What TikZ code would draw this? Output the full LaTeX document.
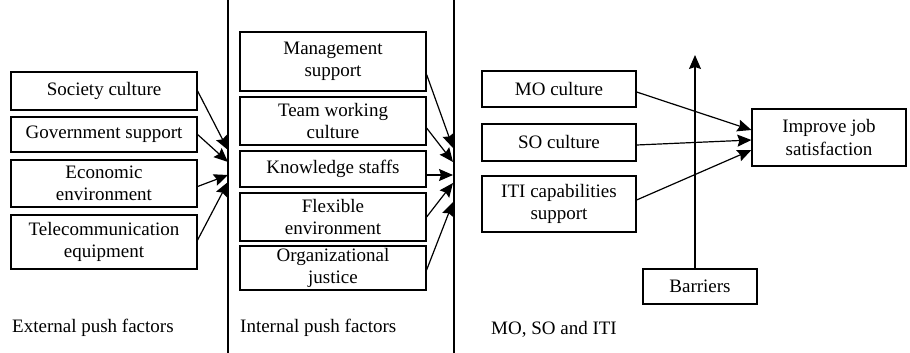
\documentclass[tikz,border=0pt]{standalone}
\usepackage{fontspec}
\setmainfont{Liberation Serif}
\newfontfamily\timesfont{Liberation Serif}
\usepackage{tikz}
\usetikzlibrary{arrows.meta, positioning, calc}

\begin{document}
\begin{tikzpicture}[
    x=1pt, y=-1pt,
    box/.style={rectangle, draw, line width=1.2pt, align=center, inner sep=0pt, font=\timesfont\fontsize{19}{22}\selectfont},
    leftbox/.style={box, minimum width=186pt},
    rightbox/.style={box, minimum width=154pt},
    arrow/.style={-{Stealth[length=14pt, width=12pt, inset=2pt]}, line width=1.2pt},
    divider/.style={line width=1.3pt},
    caption/.style={anchor=west, inner sep=0pt, font=\timesfont\fontsize{19}{22}\selectfont}
]
\useasboundingbox (0,0) rectangle (910,353);

% Dividers
\draw[divider] (228,0) -- (228,353);
\draw[divider] (454,0) -- (454,353);

% External push factors
\node[leftbox, minimum height=38pt] (soc) at (104,91) {Society culture};
\node[leftbox, minimum height=35pt] (gov) at (104,134.5) {Government support};
\node[leftbox, minimum height=47pt] (eco) at (104,183.5) {Economic\\environment};
\node[leftbox, minimum height=54pt] (tel) at (104,242) {Telecommunication\\equipment};

% Internal push factors
\node[leftbox, minimum height=59pt] (mgmt) at (333,61.5) {Management\\support};
\node[leftbox, minimum height=48pt] (team) at (333,121) {Team working\\culture};
\node[leftbox, minimum height=36pt] (know) at (333,169) {Knowledge staffs};
\node[leftbox, minimum height=48pt] (flex) at (333,217) {Flexible\\environment};
\node[leftbox, minimum height=44pt] (just) at (333,268) {Organizational\\justice};

% MO, SO and ITI
\node[rightbox, minimum height=36pt] (mo) at (559,89) {MO culture};
\node[rightbox, minimum height=37pt] (so) at (559,142.5) {SO culture};
\node[rightbox, minimum height=56pt] (iti) at (559,204) {ITI capabilities\\support};
\node[rightbox, minimum height=57pt] (job) at (829,137.5) {Improve job\\satisfaction};
\node[box, minimum width=114pt, minimum height=35pt] (barr) at (700,286.5) {Barriers};

% Arrow ends on the dividers
\coordinate (e1) at (228,150);
\coordinate (e2) at (228,162);
\coordinate (e3) at (228,175);
\coordinate (e4) at (228,182);
\coordinate (i1) at (453,148);
\coordinate (i2) at (453,162);
\coordinate (i3) at (453,175);
\coordinate (i4) at (453,183);
\coordinate (i5) at (453,202);
\coordinate (up) at (695,55);

% External arrows
\draw[arrow] (soc.east) -- (e1);
\draw[arrow] (gov.east) -- (e2);
\draw[arrow] ([yshift=-3pt]eco.east) -- (e3);
\draw[arrow] ([yshift=2pt]tel.east) -- (e4);

% Internal arrows
\draw[arrow] ([yshift=-13pt]mgmt.east) -- (i1);
\draw[arrow] ([yshift=-7pt]team.east) -- (i2);
\draw[arrow] ([yshift=-6pt]know.east) -- (i3);
\draw[arrow] (flex.east) -- (i4);
\draw[arrow] ([yshift=-2pt]just.east) -- (i5);

% Barriers
\draw[arrow] (barr.north -| up) -- (up);

% Towards job satisfaction
\draw[arrow] ([yshift=-3pt]mo.east) -- ([yshift=7.5pt]job.west);
\draw[arrow] ([yshift=-2.5pt]so.east) -- ([yshift=-2.5pt]job.west);
\draw[arrow] ([yshift=4pt]iti.east) -- ([yshift=-12.5pt]job.west);

% Captions
\node[caption] (ext) at (12,328) {External push factors};
\node[caption] (int) at (240,328) {Internal push factors};
\node[caption] (mso) at (491,329) {MO, SO and ITI};
\end{tikzpicture}
\end{document}
